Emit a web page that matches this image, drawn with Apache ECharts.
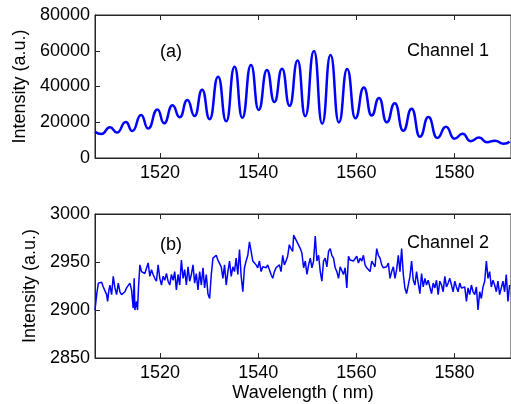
<!DOCTYPE html>
<html>
<head>
<meta charset="utf-8">
<script src="https://cdn.jsdelivr.net/npm/echarts@6/dist/echarts.min.js"></script>
<style>
  html, body { margin: 0; padding: 0; background: #fff; }
  #chart { width: 511px; height: 404px; }
</style>
</head>
<body>
<div id="chart"></div>
<script>
// Channel 1: fringe extrema (peaks and troughs) of the spectrum
const ch1Wavelength = [
  1506.75, 1508.07, 1509.80, 1511.22, 1513.04, 1514.36, 1516.15, 1517.57, 1519.48, 1520.82,
  1522.53, 1524.01, 1525.57, 1527.05, 1528.58, 1530.10, 1531.83, 1533.49, 1535.18, 1536.76,
  1538.53, 1540.09, 1541.78, 1543.30, 1544.86, 1546.40, 1548.03, 1549.59, 1551.36, 1553.04,
  1554.73, 1556.44, 1558.12, 1559.79, 1561.51, 1563.10, 1564.62, 1566.18, 1567.83, 1569.55,
  1571.26, 1572.94, 1574.67, 1576.45, 1578.26, 1579.95, 1581.67, 1583.24, 1585.02, 1586.61,
  1588.23, 1590.00, 1591.22
];
const ch1Intensity = [
  14700, 13400, 17200, 14200, 20100, 15100, 24000, 16500, 27200, 19400,
  29500, 22800, 32400, 23500, 38200, 21700, 45500, 20500, 51100, 22500,
  52000, 26900, 49200, 31300, 49900, 29200, 54500, 23400, 59900, 19200,
  57600, 19900, 49800, 22200, 39400, 23800, 33600, 20000, 30600, 15200,
  27600, 11900, 22900, 11200, 17500, 10800, 13500, 9400, 11400, 8800,
  9700, 8000, 9100
];

// Channel 2: noisy background spectrum
const ch2Wavelength = [
  1506.75, 1507.09, 1507.43, 1507.77, 1508.10, 1508.44, 1508.78, 1509.12, 1509.32, 1509.59,
  1509.80, 1510.13, 1510.47, 1510.81, 1511.15, 1511.49, 1511.83, 1512.17, 1512.50, 1512.84,
  1513.18, 1513.52, 1513.86, 1514.20, 1514.53, 1514.74, 1514.87, 1515.21, 1515.41, 1515.62,
  1515.89, 1516.23, 1516.56, 1516.90, 1517.24, 1517.58, 1517.92, 1518.26, 1518.59, 1518.93,
  1519.27, 1519.61, 1519.95, 1520.29, 1520.62, 1520.96, 1521.30, 1521.64, 1521.98, 1522.32,
  1522.66, 1522.99, 1523.33, 1523.67, 1524.01, 1524.35, 1524.69, 1525.02, 1525.36, 1525.70,
  1526.04, 1526.38, 1526.72, 1527.05, 1527.39, 1527.73, 1528.07, 1528.41, 1528.75, 1529.08,
  1529.42, 1529.76, 1530.10, 1530.44, 1530.78, 1531.11, 1531.45, 1531.79, 1532.13, 1532.47,
  1532.81, 1533.14, 1533.48, 1533.82, 1534.16, 1534.50, 1534.84, 1535.17, 1535.51, 1535.85,
  1536.19, 1536.53, 1536.87, 1537.20, 1537.54, 1537.88, 1538.22, 1538.56, 1538.90, 1539.23,
  1539.57, 1539.91, 1540.25, 1540.59, 1540.93, 1541.27, 1541.60, 1541.94, 1542.28, 1542.62,
  1542.96, 1543.30, 1543.63, 1543.97, 1544.31, 1544.65, 1544.99, 1545.33, 1545.66, 1546.00,
  1546.34, 1546.68, 1547.02, 1547.22, 1547.56, 1547.90, 1548.24, 1548.58, 1548.91, 1549.25,
  1549.59, 1549.93, 1550.27, 1550.61, 1550.94, 1551.28, 1551.62, 1551.96, 1552.30, 1552.64,
  1552.97, 1553.31, 1553.65, 1553.99, 1554.33, 1554.67, 1555.00, 1555.34, 1555.68, 1556.02,
  1556.36, 1556.70, 1557.04, 1557.37, 1557.71, 1558.05, 1558.39, 1558.73, 1559.07, 1559.40,
  1559.74, 1560.08, 1560.42, 1560.76, 1561.10, 1561.43, 1561.77, 1562.11, 1562.45, 1562.79,
  1563.13, 1563.46, 1563.80, 1564.14, 1564.48, 1564.82, 1565.16, 1565.49, 1565.83, 1566.17,
  1566.51, 1566.85, 1567.19, 1567.53, 1567.86, 1568.20, 1568.54, 1568.88, 1569.22, 1569.56,
  1569.89, 1570.23, 1570.57, 1570.91, 1571.25, 1571.59, 1571.93, 1572.26, 1572.60, 1572.94,
  1573.28, 1573.62, 1573.96, 1574.29, 1574.63, 1574.97, 1575.31, 1575.65, 1575.99, 1576.32,
  1576.66, 1577.00, 1577.34, 1577.68, 1578.02, 1578.35, 1578.69, 1579.03, 1579.37, 1579.71,
  1580.05, 1580.38, 1580.72, 1581.06, 1581.40, 1581.74, 1582.08, 1582.42, 1582.75, 1583.09,
  1583.43, 1583.77, 1584.11, 1584.45, 1584.78, 1585.12, 1585.46, 1585.80, 1586.14, 1586.48,
  1586.81, 1587.15, 1587.49, 1587.83, 1588.17, 1588.51, 1588.84, 1589.18, 1589.52, 1589.86,
  1590.20, 1590.54, 1590.88, 1591.21
];
const ch2Intensity = [
  2900, 2916, 2928, 2926, 2929, 2924, 2926, 2916, 2909, 2921,
  2926, 2916, 2935, 2923, 2916, 2928, 2919, 2916, 2914, 2919,
  2923, 2923, 2928, 2921, 2902, 2933, 2900, 2909, 2900, 2924,
  2947, 2940, 2942, 2938, 2940, 2949, 2935, 2942, 2937, 2933,
  2930, 2947, 2933, 2926, 2935, 2931, 2938, 2930, 2926, 2937,
  2931, 2940, 2921, 2937, 2926, 2952, 2933, 2942, 2926, 2945,
  2930, 2937, 2947, 2928, 2938, 2921, 2940, 2926, 2944, 2923,
  2937, 2917, 2912, 2937, 2954, 2952, 2957, 2952, 2951, 2945,
  2933, 2947, 2926, 2940, 2951, 2935, 2945, 2940, 2954, 2937,
  2963, 2935, 2919, 2944, 2951, 2957, 2971, 2961, 2951, 2952,
  2947, 2944, 2951, 2940, 2945, 2947, 2944, 2947, 2942, 2937,
  2933, 2940, 2944, 2942, 2947, 2940, 2957, 2947, 2951, 2956,
  2968, 2964, 2961, 2978, 2978, 2971, 2970, 2964, 2959, 2944,
  2951, 2937, 2947, 2954, 2944, 2951, 2977, 2951, 2957, 2940,
  2930, 2951, 2954, 2945, 2961, 2964, 2957, 2954, 2944, 2940,
  2933, 2945, 2947, 2937, 2944, 2923, 2956, 2952, 2954, 2951,
  2952, 2956, 2949, 2954, 2951, 2957, 2947, 2944, 2945, 2940,
  2951, 2949, 2945, 2964, 2957, 2954, 2947, 2944, 2942, 2945,
  2949, 2933, 2940, 2945, 2933, 2942, 2957, 2940, 2964, 2937,
  2923, 2917, 2926, 2935, 2951, 2931, 2926, 2940, 2928, 2917,
  2938, 2924, 2933, 2926, 2931, 2924, 2917, 2928, 2923, 2931,
  2916, 2930, 2926, 2919, 2935, 2924, 2928, 2933, 2926, 2919,
  2930, 2924, 2919, 2928, 2923, 2921, 2924, 2909, 2923, 2916,
  2926, 2919, 2916, 2924, 2900, 2919, 2912, 2924, 2930, 2951,
  2933, 2940, 2924, 2931, 2926, 2919, 2930, 2916, 2923, 2930,
  2919, 2937, 2909, 2926
];

const xTickValues = [1520, 1540, 1560, 1580];
const xTickLabels = ['1520', '1540', '1560', '1580'];
const ch1TickLabels = ['0', '20000', '40000', '60000', '80000'];
const ch2TickLabels = ['2850', '2900', '2950', '3000'];

const FONT = '"Liberation Sans", Arial, Helvetica, sans-serif';
const AXIS_COLOR = '#262626';
const LINE_BLUE = '#0000ff';

const zip = (xs, ys) => xs.map((x, i) => [x, ys[i]]);

function bottomX(gridIndex, withName) {
  return {
    type: 'value', gridIndex, position: 'bottom',
    min: 1506.75, max: 1591.5,
    axisLine: { show: true, lineStyle: { color: AXIS_COLOR, width: 1 } },
    axisTick: { show: true, inside: true, length: 5, customValues: xTickValues,
                lineStyle: { color: AXIS_COLOR } },
    axisLabel: { show: true, customValues: xTickValues, margin: 6,
                 fontFamily: FONT, fontSize: 18, color: '#000',
                 formatter: v => xTickLabels[xTickValues.indexOf(Math.round(v))] ?? '' },
    splitLine: { show: false },
    name: withName ? 'Wavelength ( nm)' : '',
    nameLocation: 'middle', nameGap: 26,
    nameTextStyle: { fontFamily: FONT, fontSize: 18, color: '#000' }
  };
}
function topX(gridIndex) {
  return {
    type: 'value', gridIndex, position: 'top',
    min: 1506.75, max: 1591.5,
    axisLine: { show: true, lineStyle: { color: AXIS_COLOR, width: 1 } },
    axisTick: { show: true, inside: true, length: 5, customValues: xTickValues,
                lineStyle: { color: AXIS_COLOR } },
    axisLabel: { show: false },
    splitLine: { show: false }
  };
}
function leftY(gridIndex, min, max, interval, labels) {
  return {
    type: 'value', gridIndex, min, max, interval,
    axisLine: { show: true, lineStyle: { color: AXIS_COLOR, width: 1 } },
    axisTick: { show: true, inside: true, length: 5, lineStyle: { color: AXIS_COLOR } },
    axisLabel: { margin: 5, fontFamily: FONT, fontSize: 18, color: '#000',
                 formatter: v => labels[Math.round((v - min) / interval)] ?? '' },
    splitLine: { show: false },
    name: 'Intensity (a.u.)', nameLocation: 'middle', nameGap: 56, nameRotate: 90,
    nameTextStyle: { fontFamily: FONT, fontSize: 18, color: '#000' }
  };
}

const chart = echarts.init(document.getElementById('chart'), null, { renderer: 'canvas' });
chart.setOption({
  animation: false,
  backgroundColor: '#ffffff',
  grid: [
    { left: 95, top: 15, width: 417, height: 143, show: true, borderColor: AXIS_COLOR, borderWidth: 1, backgroundColor: 'transparent' },
    { left: 95, top: 214, width: 417, height: 144, show: true, borderColor: AXIS_COLOR, borderWidth: 1, backgroundColor: 'transparent' }
  ],
  xAxis: [bottomX(0, false), topX(0), bottomX(1, true), topX(1)],
  yAxis: [
    leftY(0, 0, 80000, 20000, ch1TickLabels),
    leftY(1, 2850, 3000, 50, ch2TickLabels)
  ],
  series: [
    {
      name: 'Channel 1', type: 'line', xAxisIndex: 0, yAxisIndex: 0,
      data: zip(ch1Wavelength, ch1Intensity),
      showSymbol: false, smooth: 0.55, smoothMonotone: 'x',
      lineStyle: { color: LINE_BLUE, width: 2.5 }, clip: true
    },
    {
      name: 'Channel 2', type: 'line', xAxisIndex: 2, yAxisIndex: 1,
      data: zip(ch2Wavelength, ch2Intensity),
      showSymbol: false,
      lineStyle: { color: LINE_BLUE, width: 1.5 }, clip: true
    }
  ],
  graphic: [
    { type: 'text', left: 160, top: 43, style: { text: '(a)', font: '18px ' + FONT, fill: '#000' } },
    { type: 'text', left: 407, top: 42, style: { text: 'Channel 1', font: '18px ' + FONT, fill: '#000' } },
    { type: 'text', left: 160, top: 236, style: { text: '(b)', font: '18px ' + FONT, fill: '#000' } },
    { type: 'text', left: 407, top: 234, style: { text: 'Channel 2', font: '18px ' + FONT, fill: '#000' } }
  ]
});
</script>
</body>
</html>
